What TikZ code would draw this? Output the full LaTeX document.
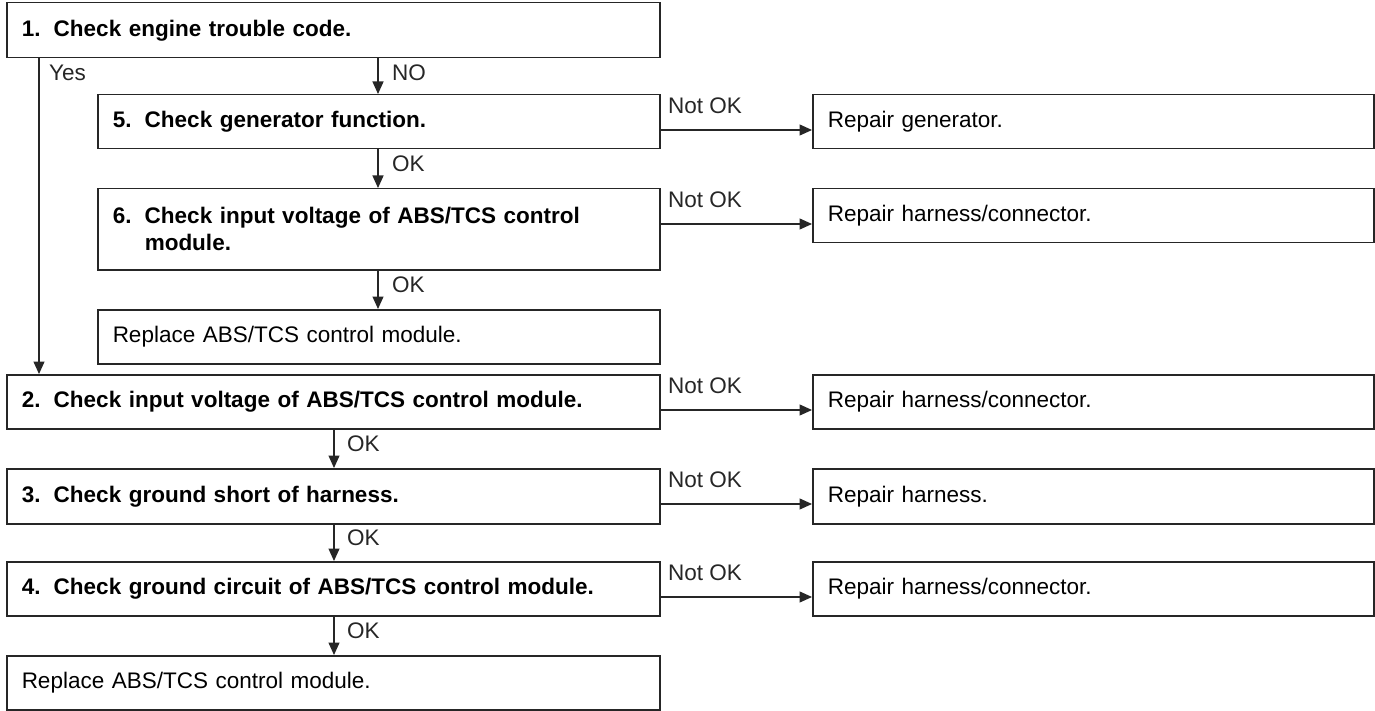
\documentclass[tikz,border=0pt]{standalone}
\usepackage{fontspec}
\setmainfont{Liberation Sans}
\usetikzlibrary{arrows.meta}
\definecolor{ink}{HTML}{262626}
\tikzset{
  box/.style={draw=ink, line width=1.5pt, anchor=north west, inner xsep=15pt, inner ysep=0pt, align=left,
    font=\fontsize{22.5}{27}\selectfont},
  lbl/.style={anchor=west, inner sep=0pt, font=\fontsize{22.5}{27}\selectfont, text=ink},
  conn/.style={draw=ink, line width=1.2pt, -{Triangle[length=12.5pt,width=11pt]}},
  plain/.style={draw=ink, line width=1.2pt}
}
\newcommand{\num}[1]{\makebox[32pt][l]{#1}}
\begin{document}
\begin{tikzpicture}[x=1pt,y=1pt]
\useasboundingbox (0,0) rectangle (1375,-711);
% left column boxes
\node[box, text width=623pt, minimum height=55pt] (b1) at (6,-2) {\textbf{\num{1.}Check engine trouble code.}};
\node[box, text width=532pt, minimum height=54pt] (b5) at (97,-94) {\textbf{\num{5.}Check generator function.}};
\node[box, text width=532pt, minimum height=81pt] (b6) at (97,-188) {\rule{0pt}{8pt}\textbf{\num{6.}Check input voltage of ABS/TCS control}\\\textbf{\hspace*{32pt}module.}};
\node[box, text width=532pt, minimum height=54pt] (r5) at (97,-309) {Replace ABS/TCS control module.};
\node[box, text width=623pt, minimum height=54pt] (b2) at (6,-374) {\textbf{\num{2.}Check input voltage of ABS/TCS control module.}};
\node[box, text width=623pt, minimum height=55pt] (b3) at (6,-468) {\textbf{\num{3.}Check ground short of harness.}};
\node[box, text width=623pt, minimum height=54pt] (b4) at (6,-561) {\textbf{\num{4.}Check ground circuit of ABS/TCS control module.}};
\node[box, text width=623pt, minimum height=54pt] (rend) at (6,-655) {Replace ABS/TCS control module.};
% repair boxes
\node[box, text width=531pt, minimum height=54pt] (g5) at (812,-94) {Repair generator.};
\node[box, text width=531pt, minimum height=54pt] (g6) at (812,-188) {Repair harness/connector.};
\node[box, text width=531pt, minimum height=54pt] (g2) at (812,-374) {Repair harness/connector.};
\node[box, text width=531pt, minimum height=55pt] (g3) at (812,-468) {Repair harness.};
\node[box, text width=531pt, minimum height=54pt] (g4) at (812,-561) {Repair harness/connector.};
% Yes branch
\draw[conn] (b1.south west -| 39,0) -- (b2.north west -| 39,0);
% vertical arrows
\draw[conn] (b1.south west -| 378,0) -- (b5.north west -| 378,0);
\draw[conn] (b5.south west -| 378,0) -- (b6.north west -| 378,0);
\draw[conn] (b6.south west -| 378,0) -- (r5.north west -| 378,0);
\draw[conn] (b2.south west -| 334,0) -- (b3.north west -| 334,0);
\draw[conn] (b3.south west -| 334,0) -- (b4.north west -| 334,0);
\draw[conn] (b4.south west -| 334,0) -- (rend.north west -| 334,0);
% horizontal arrows
\draw[conn] (b5.east |- 0,-130) -- (g5.west |- 0,-130);
\draw[conn] (b6.east |- 0,-224) -- (g6.west |- 0,-224);
\draw[conn] (b2.east |- 0,-410) -- (g2.west |- 0,-410);
\draw[conn] (b3.east |- 0,-504) -- (g3.west |- 0,-504);
\draw[conn] (b4.east |- 0,-597) -- (g4.west |- 0,-597);
% labels
\node[lbl] (lyes) at (49,-73) {Yes};
\node[lbl] (lno) at (392,-73) {NO};
\node[lbl] (lok1) at (392,-164) {OK};
\node[lbl] (lok2) at (392,-285) {OK};
\node[lbl] (lok3) at (347,-444) {OK};
\node[lbl] (lok4) at (347,-538) {OK};
\node[lbl] (lok5) at (347,-631) {OK};
\node[lbl] (n5) at (668,-106) {Not OK};
\node[lbl] (n6) at (668,-200) {Not OK};
\node[lbl] (n2) at (668,-386) {Not OK};
\node[lbl] (n3) at (668,-480) {Not OK};
\node[lbl] (n4) at (668,-573) {Not OK};
\end{tikzpicture}
\end{document}
